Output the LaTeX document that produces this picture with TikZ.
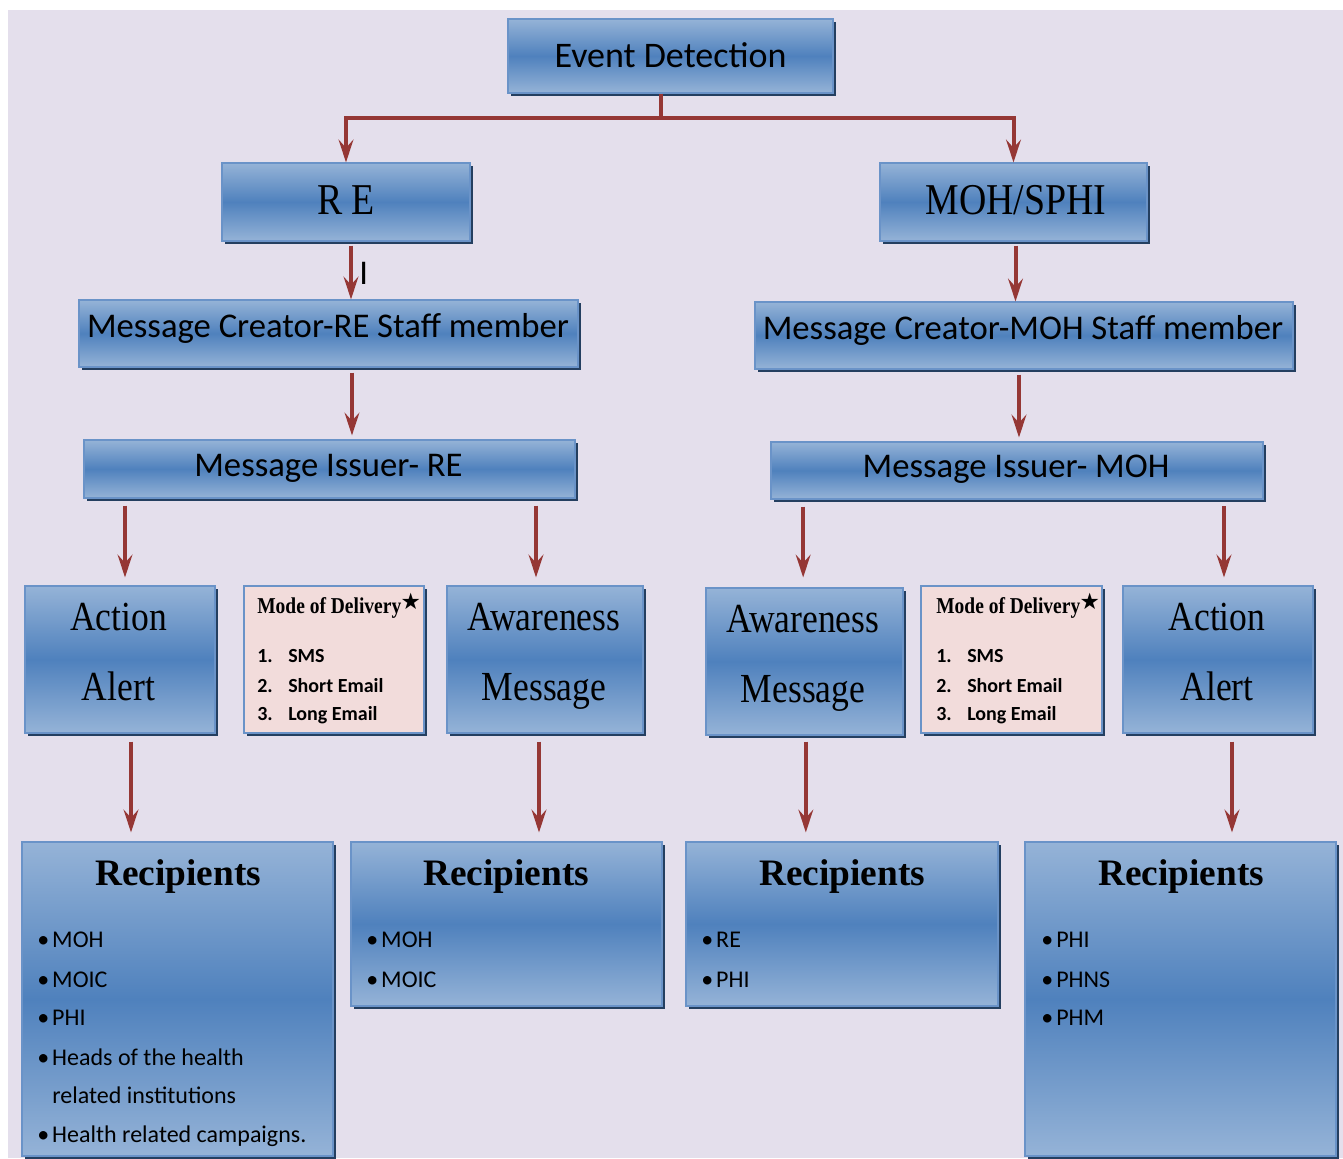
\documentclass[tikz,border=0pt]{standalone}
\usepackage{fontspec}
\setmainfont{Carlito}
\newfontfamily\serifc{Liberation Serif}
\newfontfamily\serifn[FakeStretch=0.86]{Liberation Serif}
\newfontfamily\symf{DejaVu Sans}
\usetikzlibrary{arrows.meta,fit,shadows}
\definecolor{bgc}{HTML}{E4DFEC}
\definecolor{boxlight}{HTML}{95B3D7}
\definecolor{boxdark}{HTML}{4F81BD}
\definecolor{boxline}{HTML}{6A93C8}
\definecolor{shadowc}{HTML}{243F60}
\definecolor{pinkc}{HTML}{F2DCDB}
\definecolor{arrc}{HTML}{953735}
\newcommand{\rbul}{\makebox[11.25pt][l]{\textbullet}}
\newcommand{\mstar}{\kern-0.5pt\raisebox{2.5pt}{\symf\fontsize{17}{17}\selectfont ★}}
\begin{document}
\begin{tikzpicture}[x=0.75pt,y=-0.75pt,
 shad/.style={drop shadow={shadow xshift=2.2pt,shadow yshift=-2.2pt,fill=shadowc,opacity=1}},
 box/.style={shad,draw=boxline,line width=0.8pt,inner sep=0pt,top color=boxlight,bottom color=boxlight,middle color=boxdark},
 pinkbox/.style={shad,draw=boxline,line width=0.8pt,inner sep=0pt,fill=pinkc},
 ln/.style={draw=arrc,line width=3pt},
 arr/.style={ln,-{Stealth[length=17pt,width=11pt,inset=6pt]}},
 head/.style={font=\fontsize{26}{30}\selectfont,anchor=base,inner sep=0pt},
 shead/.style={font=\serifn\fontsize{33}{36}\selectfont,anchor=base,inner sep=0pt},
 sbox/.style={font=\serifn\fontsize{31}{34}\selectfont,anchor=base,inner sep=0pt},
 rhead/.style={font=\serifc\bfseries\fontsize{28}{32}\selectfont,anchor=base,inner sep=0pt},
 blt/.style={font=\fontsize{18}{22}\selectfont,anchor=base west,inner sep=0pt},
 mode/.style={font=\bfseries\fontsize{15}{18}\selectfont,anchor=base west,inner sep=0pt},
 modet/.style={font=\serifn\bfseries\fontsize{17}{20}\selectfont,anchor=base west,inner sep=0pt},
]
\useasboundingbox (0,0) rectangle (1343,1158);
\fill[bgc] (8,10) rectangle (1343,1158);

% boxes
\node[box,fit={(508,19) (833,93)}] (ev) {};
\node[box,fit={(222,163) (470,241)}] (re) {};
\node[box,fit={(880,163) (1147,241)}] (moh) {};
\node[box,fit={(79,300) (578,367)}] (crre) {};
\node[box,fit={(755,302) (1293,369)}] (crmoh) {};
\node[box,fit={(84,440) (575,498)}] (issre) {};
\node[box,fit={(771,442) (1263,499)}] (issmoh) {};
\node[box,fit={(25,586) (215,733)}] (aal) {};
\node[pinkbox,fit={(244,586) (424,733)}] (model) {};
\node[box,fit={(447,586) (643,733)}] (awl) {};
\node[box,fit={(706,588) (903,735)}] (awr) {};
\node[pinkbox,fit={(921,586) (1102,733)}] (moder) {};
\node[box,fit={(1123,586) (1313,733)}] (aar) {};
\node[box,fit={(22,842) (333,1156)}] (rec1) {};
\node[box,fit={(351,842) (662,1006)}] (rec2) {};
\node[box,fit={(686,842) (998,1006)}] (rec3) {};
\node[box,fit={(1025,842) (1336,1156)}] (rec4) {};

% headings
\node[head,font=\fontsize{27}{30}\selectfont] (evt) at (670.5,67) {Event Detection};
\node[shead] (ret) at (346,214) {R E};
\node[shead] (moht) at (1016,214) {MOH/SPHI};
\node[head] (crret) at (328,337) {Message Creator-RE Staff member};
\node[head] (crmoht) at (1023,339) {Message Creator-MOH Staff member};
\node[head] (issret) at (328.5,476) {Message Issuer- RE};
\node[head] (issmoht) at (1016,477) {Message Issuer- MOH};
\node[head,anchor=base west] (cursor) at (359,284) {I};

\node[sbox] (aal1) at (118.5,630) {Action};
\node[sbox] (aal2) at (118.5,700) {Alert};
\node[sbox] (awl1) at (544,630) {Awareness};
\node[sbox] (awl2) at (544,700) {Message};
\node[sbox] (awr1) at (803,632) {Awareness};
\node[sbox] (awr2) at (803,702) {Message};
\node[sbox] (aar1) at (1217,630) {Action};
\node[sbox] (aar2) at (1217,700) {Alert};

% mode of delivery
\node[modet] (mlt) at (257,613) {Mode of Delivery\mstar};
\node[mode] (ml1) at (257,662) {\makebox[23.25pt][l]{1.}SMS};
\node[mode] (ml2) at (257,692) {\makebox[23.25pt][l]{2.}Short Email};
\node[mode] (ml3) at (257,720) {\makebox[23.25pt][l]{3.}Long Email};
\node[modet] (mrt) at (936,613) {Mode of Delivery\mstar};
\node[mode] (mr1) at (936,662) {\makebox[23.25pt][l]{1.}SMS};
\node[mode] (mr2) at (936,692) {\makebox[23.25pt][l]{2.}Short Email};
\node[mode] (mr3) at (936,720) {\makebox[23.25pt][l]{3.}Long Email};

% recipients
\node[rhead] (rec1t) at (178,885) {Recipients};
\node[rhead] (rec2t) at (506,885) {Recipients};
\node[rhead] (rec3t) at (842,885) {Recipients};
\node[rhead] (rec4t) at (1181,885) {Recipients};

\node[blt] (r1a) at (37,947) {\rbul MOH};
\node[blt] (r1b) at (37,987) {\rbul MOIC};
\node[blt] (r1c) at (37,1025) {\rbul PHI};
\node[blt] (r1d) at (37,1065) {\rbul Heads of the health};
\node[blt] (r1e) at (52,1103) {related institutions};
\node[blt] (r1f) at (37,1142) {\rbul Health related campaigns.};

\node[blt] (r2a) at (366,947) {\rbul MOH};
\node[blt] (r2b) at (366,987) {\rbul MOIC};

\node[blt] (r3a) at (701,947) {\rbul RE};
\node[blt] (r3b) at (701,987) {\rbul PHI};

\node[blt] (r4a) at (1041,947) {\rbul PHI};
\node[blt] (r4b) at (1041,987) {\rbul PHNS};
\node[blt] (r4c) at (1041,1025) {\rbul PHM};

% connectors
\coordinate (split) at (661,118);
\draw[ln] (ev.south -| split) -- (split);
\draw[arr] (split) -| (re.north);
\draw[arr] (split) -| (moh.north);
\draw[arr] ([xshift=3.75pt,yshift=-3pt]re.south) -- ([xshift=3.75pt]re.south |- crre.north);
\draw[arr] ([xshift=1.5pt,yshift=-3pt]moh.south) -- ([xshift=1.5pt]moh.south |- crmoh.north);
\draw[arr] ([xshift=17.6pt,yshift=-3.75pt]crre.south) -- ([xshift=17.6pt,yshift=3pt]crre.south |- issre.north);
\draw[arr] ([xshift=-3.75pt,yshift=-3.75pt]crmoh.south) -- ([xshift=-3.75pt,yshift=3pt]crmoh.south |- issmoh.north);
\draw[arr] ([xshift=3.75pt,yshift=-5.25pt]aal.north |- issre.south) -- ([xshift=3.75pt,yshift=6pt]aal.north);
\draw[arr] ([xshift=-6.75pt,yshift=-5.25pt]awl.north |- issre.south) -- ([xshift=-6.75pt,yshift=6pt]awl.north);
\draw[arr] ([xshift=-1pt,yshift=-5.25pt]awr.north |- issmoh.south) -- ([xshift=-1pt,yshift=7.5pt]awr.north);
\draw[arr] ([xshift=4.5pt,yshift=-5pt]aar.north |- issmoh.south) -- ([xshift=4.5pt,yshift=6pt]aar.north);
\draw[arr] ([xshift=8.25pt,yshift=-6pt]aal.south) -- ([xshift=8.25pt,yshift=6.75pt]aal.south |- rec1.north);
\draw[arr] ([xshift=-4.5pt,yshift=-6pt]awl.south) -- ([xshift=-4.5pt,yshift=6.75pt]awl.south |- rec2.north);
\draw[arr] ([xshift=1pt,yshift=-4.5pt]awr.south) -- ([xshift=1pt,yshift=6.75pt]awr.south |- rec3.north);
\draw[arr] ([xshift=10.5pt,yshift=-6pt]aar.south) -- ([xshift=10.5pt,yshift=6.75pt]aar.south |- rec4.north);
\end{tikzpicture}
\end{document}
